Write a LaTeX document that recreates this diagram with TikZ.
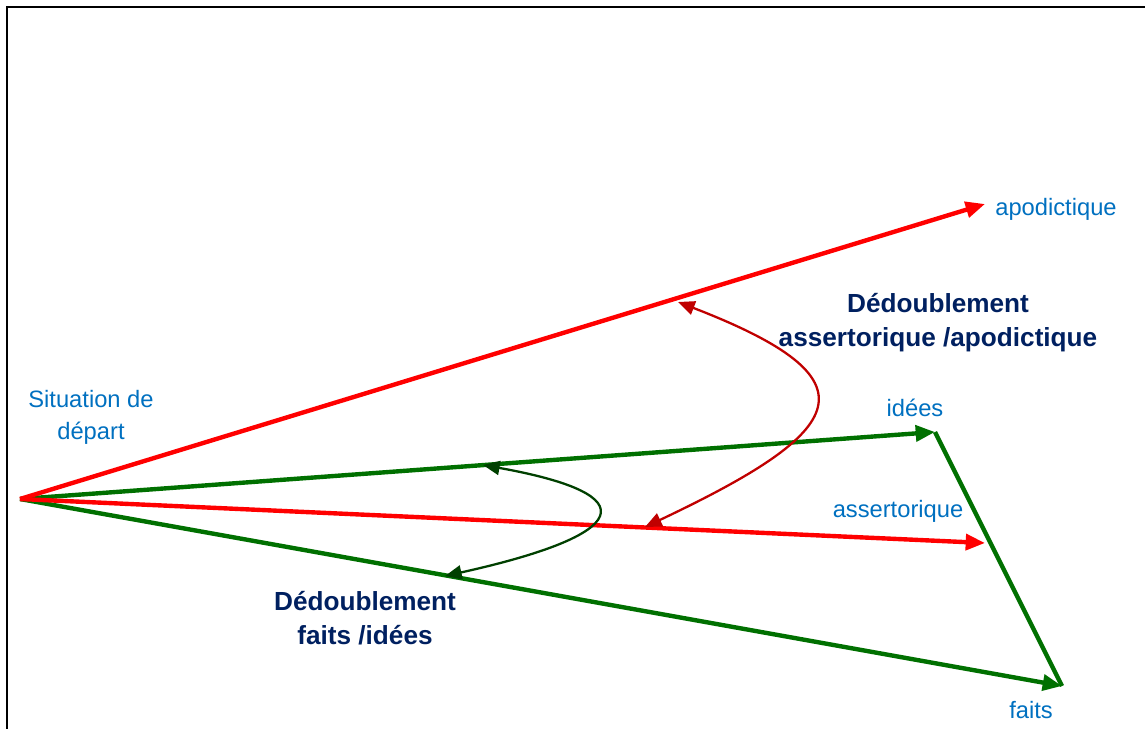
\documentclass[tikz,border=0pt]{standalone}
\usepackage{fontspec}
\setmainfont{Liberation Sans}
\usetikzlibrary{arrows.meta}
\definecolor{rayred}{RGB}{255,0,0}
\definecolor{raygreen}{RGB}{0,112,0}
\definecolor{swingred}{RGB}{192,0,0}
\definecolor{swinggreen}{RGB}{0,64,0}
\definecolor{tagblue}{RGB}{0,112,192}
\definecolor{titlenavy}{RGB}{0,32,96}

\begin{document}
\begin{tikzpicture}[x=0.02cm,y=-0.02cm,
            every node/.style={inner sep=0pt,align=center},
            tag/.style={text=tagblue,font=\fontsize{13.5}{18.1}\selectfont},
            title/.style={text=titlenavy,font=\fontsize{14.9}{19.3}\selectfont\bfseries},
            ray/.style={line width=2.5pt,-{Triangle[length=11pt,width=9pt]}},
            swing/.style={line width=1.3pt,{Triangle[length=9.5pt,width=8pt]}-{Triangle[length=9.5pt,width=8pt]}}]
            \useasboundingbox (0,0) rectangle (1145,729);
            \draw[line width=1.1pt] (7,729) -- (7,7) -- (1145,7);

            \coordinate (S) at (20,499);
            \coordinate (apo) at (985,204);
            \coordinate (ide) at (935,432);
            \coordinate (ass) at (985,543);
            \coordinate (fai) at (1062,686);

            \node[tag] (sit) at (91,417) {Situation de\\départ};
            \node[tag] (apoT) at (1056,209) {apodictique};
            \node[tag] (ideT) at (915,408) {idées};
            \node[tag] (assT) at (898,511) {assertorique};
            \node[tag] (faiT) at (1031,710) {faits};
            \node[title] (dedA) at (938,323) {Dédoublement\\assertorique /apodictique};
            \node[title] (dedF) at (365,618) {Dédoublement\\faits /idées};

            \path [ray,raygreen] (S) edge (ide);
            \path [ray,raygreen] (S) edge (fai);
            \draw [line width=2.5pt,raygreen] (ide) -- (fai);
            \path [ray,rayred] (S) edge (apo);
            \path [ray,rayred] (S) edge (ass);

            \coordinate (rA) at (678,302);
            \coordinate (rB) at (645,527);
            \coordinate (gA) at (483,465);
            \coordinate (gB) at (445,576);
            \draw [swing,swingred] (rA) .. controls (880,380) and (850,430) .. (rB);
            \draw [swing,swinggreen] (gA) .. controls (650,495) and (630,535) .. (gB);
        \end{tikzpicture}
\end{document}
